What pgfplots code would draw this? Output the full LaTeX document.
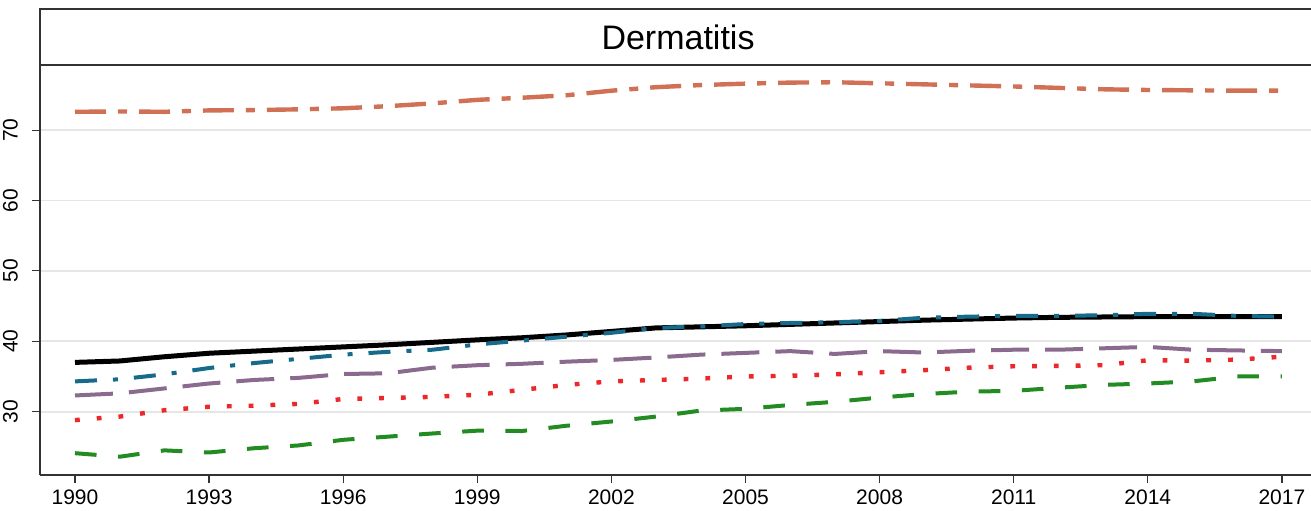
\documentclass[border=0pt]{standalone}
\usepackage{pgfplots}
\pgfplotsset{compat=1.18}
\usepackage{fontspec}
\setmainfont{Liberation Sans}
\definecolor{corange}{RGB}{209,112,84}
\definecolor{cteal}{RGB}{22,106,138}
\definecolor{cpurple}{RGB}{138,106,143}
\definecolor{cred}{RGB}{236,40,42}
\definecolor{cgreen}{RGB}{34,139,34}
\definecolor{cframe}{RGB}{50,50,50}
\definecolor{cgrid}{RGB}{230,230,230}
\begin{document}
\begin{tikzpicture}
\begin{axis}[
  name=ax,
  scale only axis,
  width=635.5pt, height=205pt,
  at={(20pt,17.5pt)}, anchor=south west,
  xmin=1989.217, xmax=2017.651,
  ymin=21.0, ymax=79.25,
  axis x line=bottom, axis y line=left,
  axis line style={-, line width=0.8pt, cframe},
  xtick={1990,1993,...,2017},
  ytick={30,40,50,60,70},
  xticklabel={\pgfmathprintnumber[1000 sep=]{\tick}},
  tick style={line width=0.6pt, cframe},
  tick align=outside,
  major tick length=4pt,
  ymajorgrids,
  grid style={line width=0.9pt, cgrid},
  /pgf/number format/assume math mode=true,
  tick label style={font=\fontsize{10.5pt}{12pt}\selectfont},
  yticklabel style={rotate=90, anchor=south},
  yticklabel shift=3.5pt,
  clip=true,
]
\addplot[corange, line width=2.2pt, dash pattern=on 15.5pt off 6pt on 4.5pt off 6pt] coordinates {
(1990,72.6)(1991,72.65)(1992,72.6)(1993,72.8)(1994,72.85)(1995,72.95)(1996,73.1)(1997,73.4)(1998,73.8)(1999,74.3)(2000,74.6)(2001,74.95)(2002,75.6)(2003,76.1)(2004,76.4)(2005,76.6)(2006,76.75)(2007,76.8)(2008,76.65)(2009,76.5)(2010,76.35)(2011,76.2)(2012,76.0)(2013,75.8)(2014,75.7)(2015,75.65)(2016,75.6)(2017,75.6)};
\addplot[black, line width=2.5pt] coordinates {
(1990,37.0)(1991,37.2)(1992,37.8)(1993,38.3)(1994,38.6)(1995,38.9)(1996,39.2)(1997,39.5)(1998,39.85)(1999,40.2)(2000,40.5)(2001,40.9)(2002,41.4)(2003,41.9)(2004,42.05)(2005,42.2)(2006,42.4)(2007,42.6)(2008,42.8)(2009,43.0)(2010,43.15)(2011,43.3)(2012,43.4)(2013,43.45)(2014,43.5)(2015,43.5)(2016,43.5)(2017,43.5)};
\addplot[cteal, line width=2pt, dash pattern=on 11pt off 8pt on 2.5pt off 8pt] coordinates {
(1990,34.3)(1991,34.6)(1992,35.3)(1993,36.2)(1994,36.9)(1995,37.5)(1996,38.1)(1997,38.5)(1998,38.8)(1999,39.55)(2000,40.1)(2001,40.65)(2002,41.2)(2003,41.9)(2004,42.1)(2005,42.45)(2006,42.6)(2007,42.7)(2008,42.9)(2009,43.35)(2010,43.5)(2011,43.6)(2012,43.6)(2013,43.7)(2014,43.9)(2015,43.9)(2016,43.6)(2017,43.5)};
\addplot[cpurple, line width=2pt, dash pattern=on 19pt off 8pt] coordinates {
(1990,32.3)(1991,32.6)(1992,33.3)(1993,34.0)(1994,34.5)(1995,34.8)(1996,35.35)(1997,35.45)(1998,36.25)(1999,36.6)(2000,36.8)(2001,37.1)(2002,37.35)(2003,37.7)(2004,38.1)(2005,38.35)(2006,38.6)(2007,38.2)(2008,38.6)(2009,38.4)(2010,38.65)(2011,38.8)(2012,38.8)(2013,39.0)(2014,39.2)(2015,38.8)(2016,38.7)(2017,38.6)};
\addplot[cred, line width=2.2pt, line cap=butt, dash pattern=on 2.4pt off 8.5pt] coordinates {
(1990,28.8)(1991,29.3)(1992,30.2)(1993,30.7)(1994,30.85)(1995,31.1)(1996,31.8)(1997,31.95)(1998,32.1)(1999,32.4)(2000,33.1)(2001,33.8)(2002,34.3)(2003,34.5)(2004,34.7)(2005,35.0)(2006,35.1)(2007,35.3)(2008,35.6)(2009,35.9)(2010,36.25)(2011,36.45)(2012,36.5)(2013,36.6)(2014,37.3)(2015,37.25)(2016,37.4)(2017,37.8)};
\addplot[cgreen, line width=2pt, dash pattern=on 10.8pt off 10.8pt] coordinates {
(1990,24.1)(1991,23.6)(1992,24.5)(1993,24.2)(1994,24.8)(1995,25.2)(1996,26.0)(1997,26.45)(1998,26.9)(1999,27.3)(2000,27.25)(2001,28.0)(2002,28.6)(2003,29.3)(2004,30.15)(2005,30.4)(2006,30.95)(2007,31.4)(2008,32.0)(2009,32.5)(2010,32.85)(2011,32.95)(2012,33.4)(2013,33.8)(2014,34.0)(2015,34.3)(2016,35.0)(2017,35.0)};
\end{axis}
\draw[cframe, line width=1pt] (655.5pt,250.5pt) -- (20pt,250.5pt) -- (20pt,222.5pt);
\draw[cframe, line width=1pt] (20pt,222.5pt) -- (655.5pt,222.5pt);
\node[font=\fontsize{17pt}{20pt}\selectfont, anchor=center] at (339pt,236.5pt) {Dermatitis};
\pgfresetboundingbox
\useasboundingbox (0,0) rectangle (655.5pt,255pt);
\end{tikzpicture}
\end{document}
